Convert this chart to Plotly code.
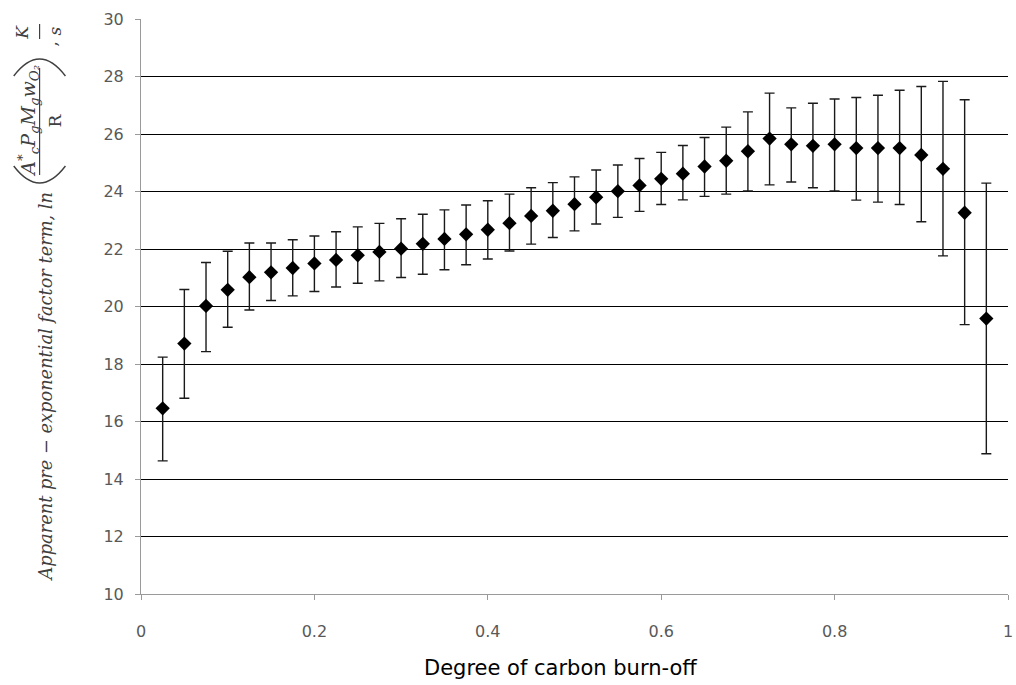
import plotly.graph_objects as go

# Degree of carbon burn-off and the fitted pre-exponential term (mean, upper, lower bounds)
burn_off = [0.025, 0.05, 0.075, 0.1, 0.125, 0.15, 0.175, 0.2, 0.225, 0.25,
            0.275, 0.3, 0.325, 0.35, 0.375, 0.4, 0.425, 0.45, 0.475, 0.5,
            0.525, 0.55, 0.575, 0.6, 0.625, 0.65, 0.675, 0.7, 0.725, 0.75,
            0.775, 0.8, 0.825, 0.85, 0.875, 0.9, 0.925, 0.95, 0.975]
ln_term = [16.46, 18.71, 20.02, 20.58, 21.02, 21.19, 21.34, 21.50, 21.62, 21.78,
           21.90, 22.01, 22.18, 22.35, 22.51, 22.67, 22.90, 23.15, 23.33, 23.56,
           23.80, 24.01, 24.21, 24.44, 24.62, 24.87, 25.07, 25.40, 25.84, 25.64,
           25.59, 25.64, 25.51, 25.51, 25.51, 25.27, 24.79, 23.26, 19.58]
ln_upper = [18.24, 20.59, 21.53, 21.92, 22.21, 22.21, 22.32, 22.45, 22.60, 22.77,
            22.89, 23.05, 23.21, 23.36, 23.53, 23.68, 23.91, 24.13, 24.31, 24.51,
            24.75, 24.92, 25.15, 25.36, 25.60, 25.88, 26.24, 26.77, 27.42, 26.91,
            27.07, 27.22, 27.27, 27.35, 27.52, 27.65, 27.83, 27.19, 24.29]
ln_lower = [14.63, 16.81, 18.43, 19.28, 19.88, 20.21, 20.37, 20.52, 20.68, 20.81,
            20.89, 21.01, 21.12, 21.28, 21.45, 21.65, 21.93, 22.17, 22.40, 22.63,
            22.87, 23.10, 23.31, 23.55, 23.71, 23.83, 23.91, 24.02, 24.23, 24.33,
            24.13, 24.02, 23.70, 23.63, 23.55, 22.95, 21.76, 19.37, 14.88]

x_ticks = [0, 0.2, 0.4, 0.6, 0.8, 1]
y_ticks = [10, 12, 14, 16, 18, 20, 22, 24, 26, 28, 30]

err_plus = [u - m for u, m in zip(ln_upper, ln_term)]
err_minus = [m - l for m, l in zip(ln_term, ln_lower)]

W, H = 1016, 685
L, R, T, B = 141, 3, 19, 91
PW, PH = W - L - R, H - T - B


def px(x):
    return (x - L) / PW


def py(y):
    return (H - B - y) / PH


fig = go.Figure()
fig.add_trace(go.Scatter(
    x=burn_off, y=ln_term, mode="markers",
    marker=dict(symbol="diamond", size=11, color="black"),
    error_y=dict(type="data", symmetric=False, array=err_plus, arrayminus=err_minus,
                 color="#1a1a1a", thickness=1.4, width=5),
    showlegend=False,
))

SERIF = "DejaVu Serif"
SANS = "DejaVu Sans"
TITLE_COLOR = "#404040"
tick_font = dict(family=SANS, size=16, color="#595959")

annotations = []
shapes = []


def rot_text(text, x, y, size=19):
    annotations.append(dict(
        text=text, x=px(x), y=py(y), xref="paper", yref="paper",
        textangle=-90, showarrow=False, xanchor="center", yanchor="middle",
        font=dict(family=SERIF, size=size, color=TITLE_COLOR),
    ))


# rotated y-axis title assembled from pieces
rot_text("<i>Apparent pre − exponential factor term, ln</i>", 44, 387, 17.8)
rot_text("<i>A</i><sup>*</sup><i><sub>c</sub>P<sub>g</sub>M<sub>g</sub>w<sub>O₂</sub></i>", 27, 121, 19)
rot_text("R", 55, 120, 17)
rot_text("<i>K</i>", 21, 32, 17)
rot_text("<i>s</i>", 55, 31, 17)
rot_text(",", 50, 44, 17)

line_style = dict(color=TITLE_COLOR, width=1.2)
shapes.append(dict(type="line", xref="paper", yref="paper",
                   x0=px(39), x1=px(39), y0=py(68), y1=py(175), line=line_style))
shapes.append(dict(type="line", xref="paper", yref="paper",
                   x0=px(39), x1=px(39), y0=py(24), y1=py(39), line=line_style))
# large parentheses around the fraction
shapes.append(dict(type="path", xref="paper", yref="paper",
                   path=f"M {px(13)},{py(166)} Q {px(39)},{py(200)} {px(65)},{py(166)}",
                   line=dict(color=TITLE_COLOR, width=1.4)))
shapes.append(dict(type="path", xref="paper", yref="paper",
                   path=f"M {px(13)},{py(76)} Q {px(39)},{py(42)} {px(65)},{py(76)}",
                   line=dict(color=TITLE_COLOR, width=1.4)))

# x-axis title placed as free text so it can sit slightly left of the plot centre
annotations.append(dict(
    text="Degree of carbon burn-off", x=px(563), y=py(668), xref="paper", yref="paper",
    showarrow=False, xanchor="center", yanchor="middle",
    font=dict(family=SANS, size=21, color="#000000"),
))

fig.update_layout(
    width=W, height=H,
    margin=dict(l=L, r=R, t=T, b=B),
    paper_bgcolor="white", plot_bgcolor="white",
    annotations=annotations, shapes=shapes,
    xaxis=dict(
        range=[0, 1], tickvals=x_ticks, ticktext=[f"{v:g}" for v in x_ticks],
        showgrid=False, zeroline=False, showline=True, linecolor="#9a9a9a", linewidth=1,
        ticks="outside", ticklen=5, tickcolor="#9a9a9a", tickfont=tick_font,
        ticklabelstandoff=18, ticklabeloverflow="allow",
    ),
    yaxis=dict(
        range=[10, 30], tickvals=y_ticks,
        showgrid=True, gridcolor="#000000", gridwidth=1, zeroline=False,
        showline=True, linecolor="#9a9a9a", linewidth=1,
        ticks="outside", ticklen=5, tickcolor="#9a9a9a", tickfont=tick_font,
        ticklabelstandoff=8,
    ),
)

fig.write_html("out.html")
